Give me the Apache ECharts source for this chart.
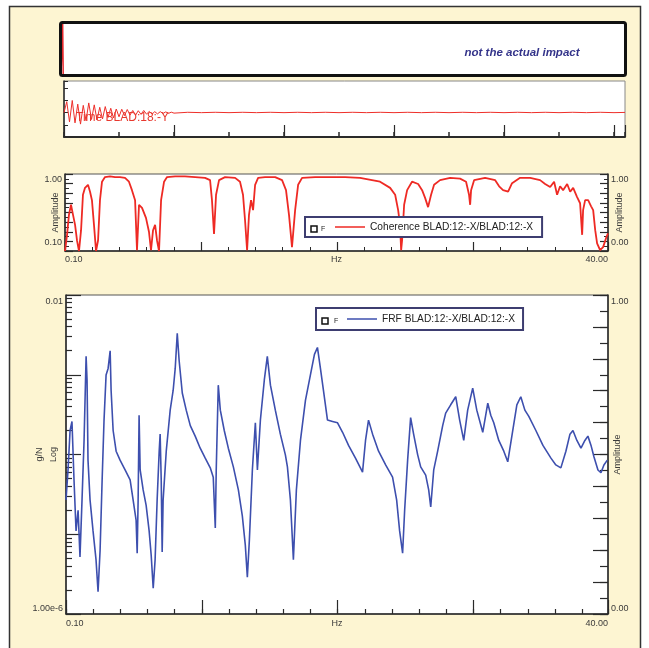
<!DOCTYPE html>
<html>
<head>
<meta charset="utf-8">
<script src="https://cdn.jsdelivr.net/npm/echarts@6.0.0/dist/echarts.min.js"></script>
<style>
  html, body { margin: 0; padding: 0; background: #fff; }
  #chart { width: 649px; height: 648px; }
</style>
</head>
<body>
<div id="chart"></div>
<script>
// impact strip (only the spike at the very start)
const impactT = [0, 0.02, 0.03, 0.04, 10.25];
const impactV = [0, 0, 1, 0, 0];

// response time trace BLAD:18:-Y
const respT = [0, 0.05, 0.1, 0.15, 0.2, 0.25, 0.3, 0.35, 0.4, 0.45, 0.5, 0.55, 0.6, 0.65, 0.7, 0.75, 0.8, 0.85, 0.9, 0.95,
  1, 1.05, 1.1, 1.15, 1.2, 1.25, 1.3, 1.35, 1.4, 1.45, 1.5, 1.55, 1.6, 1.65, 1.7, 1.75, 1.8, 1.85, 1.9, 1.95, 2,
  2.25, 2.5, 2.75, 3, 3.25, 3.5, 3.75, 4, 4.25, 4.5, 4.75, 5, 5.25, 5.5, 5.75, 6, 6.25, 6.5, 6.75, 7, 7.25, 7.5, 7.75,
  8, 8.25, 8.5, 8.75, 9, 9.25, 9.5, 9.75, 10, 10.2];
const respV = [0, 0.45, -0.38, 0.5, -0.42, 0.35, -0.47, 0.3, -0.33, 0.4, -0.28, 0.32, -0.3, 0.22, -0.26, 0.25, -0.2, 0.18, -0.22, 0.15,
  -0.17, 0.14, -0.12, 0.13, -0.1, 0.09, -0.11, 0.08, -0.07, 0.09, -0.06, 0.05, -0.06, 0.04, -0.05, 0.04, -0.03, 0.03, -0.03, 0.02, -0.02,
  0.015, 0, 0.015, 0, 0.015, 0, 0.015, 0, 0.015, 0, 0.015, 0, 0.015, 0, 0.015, 0, 0.015, 0, 0.015, 0, 0.015, 0, 0.015,
  0, 0.015, 0, 0.015, 0, 0.015, 0, 0.015, 0, 0.01];

// coherence BLAD:12:-X / BLAD:12:-X
const cohHz = [
  0.10, 0.25, 0.39, 0.54, 0.69, 0.84, 0.98, 1.13, 1.28, 1.42,
  1.57, 1.79, 1.94, 2.08, 2.23, 2.38, 2.53, 2.67, 2.82, 3.04,
  3.41, 3.78, 4.14, 4.51, 4.80, 5.02, 5.25, 5.39, 5.54, 5.76,
  6.05, 6.27, 6.42, 6.57, 6.72, 6.86, 7.01, 7.16, 7.38, 7.60,
  8.19, 8.92, 9.66, 10.39, 10.76, 10.90, 11.05, 11.20, 11.42, 11.86,
  12.60, 12.96, 13.18, 13.33, 13.48, 13.62, 13.77, 13.92, 14.07, 14.29,
  14.80, 15.54, 16.05, 16.34, 16.56, 16.78, 17.01, 17.23, 17.52, 18.48,
  19.58, 20.68, 21.78, 22.66, 23.25, 23.99, 24.36, 24.58, 24.72, 24.80,
  24.87, 25.02, 25.24, 25.60, 26.05, 26.34, 26.56, 26.78, 27.00, 27.22,
  27.66, 28.40, 29.13, 29.57, 29.79, 29.87, 29.94, 30.16, 30.97, 31.71,
  32.00, 32.29, 32.66, 32.95, 33.54, 34.28, 35.01, 35.38, 35.75, 36.04,
  36.26, 36.48, 36.70, 37.00, 37.22, 37.44, 37.73, 37.95, 38.10, 38.17,
  38.32, 38.54, 38.76, 38.91, 39.06, 39.20, 39.42, 39.64, 39.86, 40.00];
const cohVal = [
  0.00, 0.21, 0.47, 0.60, 0.47, 0.34, 0.14, 0.00, 0.27, 0.73,
  0.82, 0.86, 0.77, 0.66, 0.34, 0.00, 0.14, 0.66, 0.90, 0.96,
  0.97, 0.96, 0.96, 0.95, 0.90, 0.79, 0.66, 0.01, 0.60, 0.56,
  0.43, 0.25, 0.01, 0.27, 0.34, 0.14, 0.00, 0.66, 0.90, 0.96,
  0.97, 0.97, 0.96, 0.95, 0.92, 0.66, 0.22, 0.73, 0.92, 0.96,
  0.95, 0.90, 0.73, 0.40, 0.01, 0.47, 0.66, 0.53, 0.86, 0.95,
  0.96, 0.96, 0.92, 0.79, 0.47, 0.05, 0.53, 0.86, 0.95, 0.96,
  0.96, 0.96, 0.95, 0.92, 0.90, 0.82, 0.73, 0.53, 0.34, 0.01,
  0.14, 0.60, 0.79, 0.90, 0.87, 0.79, 0.69, 0.57, 0.73, 0.86,
  0.92, 0.95, 0.94, 0.90, 0.73, 0.60, 0.79, 0.92, 0.95, 0.92,
  0.84, 0.79, 0.77, 0.88, 0.95, 0.95, 0.92, 0.87, 0.83, 0.90,
  0.73, 0.84, 0.79, 0.87, 0.77, 0.82, 0.70, 0.62, 0.21, 0.53,
  0.66, 0.66, 0.58, 0.53, 0.27, 0.10, 0.01, 0.05, 0.17, 0.23];

// FRF BLAD:12:-X / BLAD:12:-X  (g/N)
const frfHz = [
  0.10, 0.25, 0.40, 0.54, 0.69, 0.84, 0.99, 1.13, 1.28, 1.43,
  1.58, 1.65, 1.72, 1.87, 2.09, 2.31, 2.46, 2.61, 2.76, 2.90,
  3.05, 3.20, 3.35, 3.42, 3.57, 3.79, 4.08, 4.45, 4.82, 5.04,
  5.26, 5.34, 5.41, 5.48, 5.56, 5.78, 6.00, 6.22, 6.37, 6.52,
  6.66, 6.81, 6.96, 7.03, 7.11, 7.18, 7.25, 7.48, 7.77, 7.99,
  8.14, 8.29, 8.43, 8.66, 8.95, 9.25, 9.61, 9.98, 10.35, 10.72,
  10.94, 11.09, 11.16, 11.31, 11.46, 11.75, 12.05, 12.42, 12.79, 13.08,
  13.30, 13.45, 13.60, 13.82, 14.04, 14.19, 14.41, 14.70, 14.92, 15.15,
  15.51, 15.88, 16.25, 16.40, 16.62, 16.84, 17.06, 17.36, 17.73, 18.09,
  18.39, 18.61, 18.83, 19.05, 19.35, 19.72, 20.09, 20.46, 20.90, 21.41,
  21.93, 22.15, 22.37, 22.67, 23.11, 23.63, 24.14, 24.44, 24.66, 24.88,
  25.03, 25.25, 25.47, 25.69, 25.99, 26.21, 26.58, 26.80, 26.95, 27.17,
  27.46, 27.83, 28.05, 28.42, 28.79, 29.08, 29.38, 29.67, 30.04, 30.34,
  30.78, 31.15, 31.37, 31.59, 31.96, 32.33, 32.62, 32.99, 33.29, 33.58,
  33.88, 34.17, 34.69, 35.21, 35.80, 36.16, 36.53, 36.90, 37.20, 37.42,
  37.71, 38.01, 38.30, 38.52, 38.75, 38.97, 39.26, 39.48, 39.70, 39.95];
const frfAmp = [
  2.7e-5, 6.4e-5, 2.0e-4, 2.6e-4, 4.8e-5, 1.1e-5, 2.0e-5, 5.2e-6, 2.7e-5, 1.5e-4,
  1.7e-3, 8.6e-4, 8.5e-5, 2.7e-5, 1.1e-5, 4.8e-6, 1.9e-6, 6.3e-6, 4.8e-5, 2.7e-4,
  9.9e-4, 1.2e-3, 2.0e-3, 6.4e-4, 2.0e-4, 1.1e-4, 8.5e-5, 6.4e-5, 4.8e-5, 2.7e-5,
  1.5e-5, 5.8e-6, 2.7e-5, 3.1e-4, 6.4e-5, 3.6e-5, 2.3e-5, 1.1e-5, 5.5e-6, 2.1e-6,
  4.8e-6, 2.7e-5, 1.1e-4, 1.8e-4, 4.8e-5, 6.0e-6, 2.7e-5, 1.1e-4, 3.6e-4, 6.4e-4,
  1.2e-3, 3.3e-3, 1.5e-3, 5.9e-4, 3.6e-4, 2.3e-4, 1.7e-4, 1.2e-4, 9.0e-5, 6.8e-5,
  5.2e-5, 1.2e-5, 6.4e-5, 7.4e-4, 3.6e-4, 2.0e-4, 1.2e-4, 7.0e-5, 3.6e-5, 1.7e-5,
  7.3e-6, 2.9e-6, 8.5e-6, 6.4e-5, 2.5e-4, 6.4e-5, 2.7e-4, 8.6e-4, 1.7e-3, 7.4e-4,
  3.6e-4, 1.8e-4, 9.9e-5, 7.0e-5, 2.7e-5, 4.8e-6, 3.6e-5, 1.5e-4, 4.8e-4, 9.9e-4,
  1.8e-3, 2.2e-3, 1.2e-3, 6.4e-4, 2.7e-4, 2.6e-4, 2.5e-4, 1.9e-4, 1.3e-4, 9.0e-5,
  6.0e-5, 1.5e-4, 2.7e-4, 1.8e-4, 1.1e-4, 7.4e-5, 5.2e-5, 2.7e-5, 1.1e-5, 5.8e-6,
  2.0e-5, 8.5e-5, 2.9e-4, 1.8e-4, 9.9e-5, 7.0e-5, 5.5e-5, 3.6e-5, 2.2e-5, 6.4e-5,
  1.1e-4, 2.3e-4, 3.3e-4, 4.2e-4, 5.3e-4, 2.7e-4, 1.5e-4, 3.6e-4, 6.8e-4, 3.6e-4,
  1.9e-4, 4.4e-4, 3.1e-4, 2.5e-4, 1.5e-4, 1.1e-4, 8.1e-5, 2.0e-4, 4.2e-4, 5.3e-4,
  3.6e-4, 3.0e-4, 2.0e-4, 1.3e-4, 9.0e-5, 7.4e-5, 6.8e-5, 1.1e-4, 1.8e-4, 2.0e-4,
  1.5e-4, 1.2e-4, 1.5e-4, 1.7e-4, 1.3e-4, 9.3e-5, 6.4e-5, 5.9e-5, 7.4e-5, 8.5e-5];

// minor ticks of the log g/N axis
const frfMinorTicks = [
  2e-6, 3e-6, 4e-6, 5e-6, 6e-6, 7e-6, 8e-6, 9e-6,
  2e-5, 3e-5, 4e-5, 5e-5, 6e-5, 7e-5, 8e-5, 9e-5,
  2e-4, 3e-4, 4e-4, 5e-4, 6e-4, 7e-4, 8e-4, 9e-4,
  2e-3, 3e-3, 4e-3, 5e-3, 6e-3, 7e-3, 8e-3, 9e-3];

const cohName = 'Coherence BLAD:12:-X/BLAD:12:-X';
const frfName = 'FRF BLAD:12:-X/BLAD:12:-X';

function zip(a, b) {
  return a.map((v, i) => [v, b[i]]);
}

const font = 'Liberation Sans, Arial, sans-serif';
const lbl = { fontFamily: font, fontSize: 9, color: '#3a3a3a' };
const ink = '#2a2a2a';

const edgeHz = v => (Math.abs(v - 0.1) < 1e-6 ? '0.10' : (Math.abs(v - 40) < 1e-6 ? '40.00' : ''));

// end labels of a y axis, nudged inside the axis span (top one down, bottom one up)
function endLabels(topText, botText, isTop, isBot, down, up) {
  return {
    margin: 3,
    formatter: v => (isTop(v) ? '{t|' + topText + '}' : (isBot(v) ? '{b|' + botText + '}' : '')),
    rich: {
      t: Object.assign({ lineHeight: 10, padding: [down * 2, 0, 0, 0] }, lbl),
      b: Object.assign({ lineHeight: 10, padding: [0, 0, up * 2, 0] }, lbl)
    }
  };
}

// tick-only axis (no line, no labels) for the longer tick marks
function tickOnly(extra, len) {
  return Object.assign({
    type: 'value',
    axisLine: { show: false, onZero: false },
    axisTick: { inside: true, length: len, lineStyle: { color: ink, width: 1.2 } },
    axisLabel: { show: false },
    splitLine: { show: false }
  }, extra);
}

const chart = echarts.init(document.getElementById('chart'));

const option = {
  backgroundColor: '#fdf5d2',
  animation: false,
  grid: [
    { left: 61, top: 23, width: 564, height: 52, show: true, backgroundColor: '#fff', borderWidth: 0, outerBoundsMode: 'none' },
    { left: 64, top: 81, width: 561, height: 56, show: true, backgroundColor: '#fff', borderColor: '#888', borderWidth: 1, outerBoundsMode: 'none' },
    { left: 65, top: 174, width: 543, height: 77, show: true, backgroundColor: '#fff', borderColor: '#555', borderWidth: 1, outerBoundsMode: 'none' },
    { left: 66, top: 295, width: 542, height: 319, show: true, backgroundColor: '#fff', borderColor: '#555', borderWidth: 1, outerBoundsMode: 'none' }
  ],
  xAxis: [
    { gridIndex: 0, type: 'value', min: 0, max: 10.25, show: false },
    {
      gridIndex: 1, type: 'value', position: 'bottom', min: 0, max: 10.2, interval: 1,
      axisLine: { onZero: false, lineStyle: { color: ink, width: 2 } },
      axisTick: { inside: true, length: 5, lineStyle: { color: ink, width: 1.5 } },
      axisLabel: { show: false },
      splitLine: { show: false }
    },
    tickOnly({ gridIndex: 1, position: 'bottom', min: 0, max: 10.2, interval: 2 }, 12),
    {
      gridIndex: 2, type: 'value', position: 'bottom', min: 0.1, max: 40, interval: 2,
      name: 'Hz', nameLocation: 'middle', nameGap: 4, nameMoveOverlap: false,
      nameTextStyle: Object.assign({ verticalAlign: 'top' }, lbl),
      axisLine: { onZero: false, lineStyle: { color: ink, width: 1.5 } },
      axisTick: { inside: true, length: 4, lineStyle: { color: ink } },
      axisLabel: Object.assign({ margin: 4, formatter: edgeHz, alignMinLabel: 'left', alignMaxLabel: 'right' }, lbl),
      splitLine: { show: false }
    },
    tickOnly({ gridIndex: 2, position: 'bottom', min: 0.1, max: 40, interval: 10 }, 9),
    {
      gridIndex: 3, type: 'value', position: 'bottom', min: 0.1, max: 40, interval: 2,
      name: 'Hz', nameLocation: 'middle', nameGap: 5, nameMoveOverlap: false,
      nameTextStyle: Object.assign({ verticalAlign: 'top' }, lbl),
      axisLine: { onZero: false, lineStyle: { color: ink, width: 1.5 } },
      axisTick: { inside: true, length: 5, lineStyle: { color: ink, width: 1.2 } },
      axisLabel: Object.assign({ margin: 5, formatter: edgeHz, alignMinLabel: 'left', alignMaxLabel: 'right' }, lbl),
      splitLine: { show: false }
    },
    tickOnly({ gridIndex: 3, position: 'bottom', min: 0.1, max: 40, interval: 10 }, 14)
  ],
  yAxis: [
    { gridIndex: 0, type: 'value', min: 0, max: 1, show: false },
    {
      gridIndex: 1, type: 'value', position: 'left', min: -1, max: 1.3, interval: 0.5,
      axisLine: { onZero: false, lineStyle: { color: ink, width: 1.5 } },
      axisTick: { inside: true, length: 4, lineStyle: { color: ink } },
      axisLabel: { show: false },
      splitLine: { show: false }
    },
    // coherence, left (log-labelled) side
    {
      gridIndex: 2, type: 'value', position: 'left', min: 0, max: 1, interval: 0.0625,
      name: 'Amplitude', nameLocation: 'middle', nameGap: 5, nameMoveOverlap: false, nameTextStyle: lbl,
      axisLine: { onZero: false, lineStyle: { color: ink, width: 1.5 } },
      axisTick: { inside: true, length: 4, lineStyle: { color: ink } },
      axisLabel: endLabels('1.00', '0.10', v => v === 1, v => v === 0, 6, 8),
      splitLine: { show: false }
    },
    tickOnly({ gridIndex: 2, position: 'left', min: 0, max: 1, interval: 0.125 }, 8),
    // coherence, right side (data axis)
    {
      gridIndex: 2, type: 'value', position: 'right', min: 0, max: 1, interval: 0.0625,
      name: 'Amplitude', nameLocation: 'middle', nameGap: 7, nameMoveOverlap: false, nameTextStyle: lbl,
      axisLine: { onZero: false, lineStyle: { color: ink, width: 1.5 } },
      axisTick: { inside: true, length: 4, lineStyle: { color: ink } },
      axisLabel: endLabels('1.00', '0.00', v => v === 1, v => v === 0, 6, 8),
      splitLine: { show: false }
    },
    tickOnly({ gridIndex: 2, position: 'right', min: 0, max: 1, interval: 0.125 }, 8),
    // FRF, left log axis (data axis)
    {
      gridIndex: 3, type: 'log', logBase: 10, position: 'left', min: 1e-6, max: 0.01,
      name: 'g/N\nLog', nameLocation: 'middle', nameGap: 5, nameMoveOverlap: false,
      nameTextStyle: Object.assign({ lineHeight: 14 }, lbl),
      axisLine: { onZero: false, lineStyle: { color: ink, width: 1.5 } },
      axisTick: { inside: true, length: 15, lineStyle: { color: ink, width: 1.2 } },
      axisLabel: endLabels('0.01', '1.00e-6', v => v > 0.0099, v => v < 1.01e-6, 7, 5),
      splitLine: { show: false }
    },
    {
      gridIndex: 3, type: 'log', logBase: 10, position: 'left', min: 1e-6, max: 0.01,
      axisLine: { show: false, onZero: false },
      axisTick: { inside: true, length: 6, customValues: frfMinorTicks, lineStyle: { color: ink, width: 1.2 } },
      axisLabel: { show: false },
      splitLine: { show: false }
    },
    // FRF, right linear amplitude axis
    {
      gridIndex: 3, type: 'value', position: 'right', min: 0, max: 1, interval: 0.05,
      name: 'Amplitude', nameLocation: 'middle', nameGap: 5, nameMoveOverlap: false, nameTextStyle: lbl,
      axisLine: { onZero: false, lineStyle: { color: ink, width: 1.5 } },
      axisTick: { inside: true, length: 8, lineStyle: { color: ink, width: 1.2 } },
      axisLabel: endLabels('1.00', '0.00', v => v === 1, v => v === 0, 7, 5),
      splitLine: { show: false }
    },
    tickOnly({ gridIndex: 3, position: 'right', min: 0, max: 1, interval: 0.1 }, 15)
  ],
  legend: [
    {
      data: [cohName], left: 305, top: 217, icon: 'rect', itemWidth: 30, itemHeight: 1.5,
      padding: [5, 9, 5, 30], backgroundColor: '#fff', borderColor: '#3d3d70', borderWidth: 2,
      selectedMode: false, textStyle: Object.assign({}, lbl, { fontSize: 10.2, color: '#222' })
    },
    {
      data: [frfName], left: 316, top: 308, icon: 'rect', itemWidth: 30, itemHeight: 1.5,
      padding: [6, 8, 6, 31], backgroundColor: '#fff', borderColor: '#3d3d70', borderWidth: 2,
      selectedMode: false, textStyle: Object.assign({}, lbl, { fontSize: 10.2, color: '#222' })
    }
  ],
  graphic: [
    // white paper around the cream panel
    { type: 'rect', shape: { x: 0, y: 0, width: 649, height: 6 }, style: { fill: '#fff' }, z: 0 },
    { type: 'rect', shape: { x: 0, y: 0, width: 9, height: 648 }, style: { fill: '#fff' }, z: 0 },
    { type: 'rect', shape: { x: 641, y: 0, width: 8, height: 648 }, style: { fill: '#fff' }, z: 0 },
    { type: 'rect', shape: { x: 9.5, y: 6.5, width: 631, height: 660 }, style: { fill: 'none', stroke: '#333', lineWidth: 1.5 }, z: 1 },
    // heavy frame of the impact strip
    { type: 'rect', shape: { x: 60.5, y: 22.5, width: 565, height: 53, r: 2 }, style: { fill: 'none', stroke: '#111', lineWidth: 3 }, z: 100 },
    {
      type: 'text', x: 522, y: 53, z: 100,
      style: { text: 'not the actual impact', fill: '#34348a', fontFamily: font, fontSize: 11.5, fontStyle: 'italic', fontWeight: 'bold', align: 'center', verticalAlign: 'middle' }
    },
    {
      type: 'text', x: 76, y: 118, z: 100,
      style: { text: 'Time BLAD:18:-Y', fill: '#e8382e', fontFamily: font, fontSize: 12, verticalAlign: 'middle' }
    },
    // "□ F" markers inside the legend boxes
    { type: 'rect', shape: { x: 311, y: 226, width: 6, height: 6 }, style: { fill: '#fff', stroke: '#111', lineWidth: 1.5 }, z: 100 },
    { type: 'text', x: 321, y: 229, z: 100, style: { text: 'F', fill: '#222', fontFamily: font, fontSize: 7, verticalAlign: 'middle' } },
    { type: 'rect', shape: { x: 322, y: 318, width: 6, height: 6 }, style: { fill: '#fff', stroke: '#111', lineWidth: 1.5 }, z: 100 },
    { type: 'text', x: 334, y: 321, z: 100, style: { text: 'F', fill: '#222', fontFamily: font, fontSize: 7, verticalAlign: 'middle' } }
  ],
  series: [
    {
      type: 'line', xAxisIndex: 0, yAxisIndex: 0, data: zip(impactT, impactV),
      showSymbol: false, lineStyle: { color: '#e3262a', width: 1.5 }
    },
    {
      type: 'line', xAxisIndex: 1, yAxisIndex: 1, data: zip(respT, respV),
      showSymbol: false, lineStyle: { color: '#ee2f2a', width: 1 }
    },
    {
      name: cohName, type: 'line', xAxisIndex: 3, yAxisIndex: 4, data: zip(cohHz, cohVal),
      showSymbol: false, itemStyle: { color: '#ee2a24' }, lineStyle: { color: '#ee2a24', width: 1.8 }
    },
    {
      name: frfName, type: 'line', xAxisIndex: 5, yAxisIndex: 6, data: zip(frfHz, frfAmp),
      showSymbol: false, itemStyle: { color: '#3d4fae' }, lineStyle: { color: '#3d4fae', width: 1.6 }
    }
  ]
};

chart.setOption(option);
</script>
</body>
</html>
